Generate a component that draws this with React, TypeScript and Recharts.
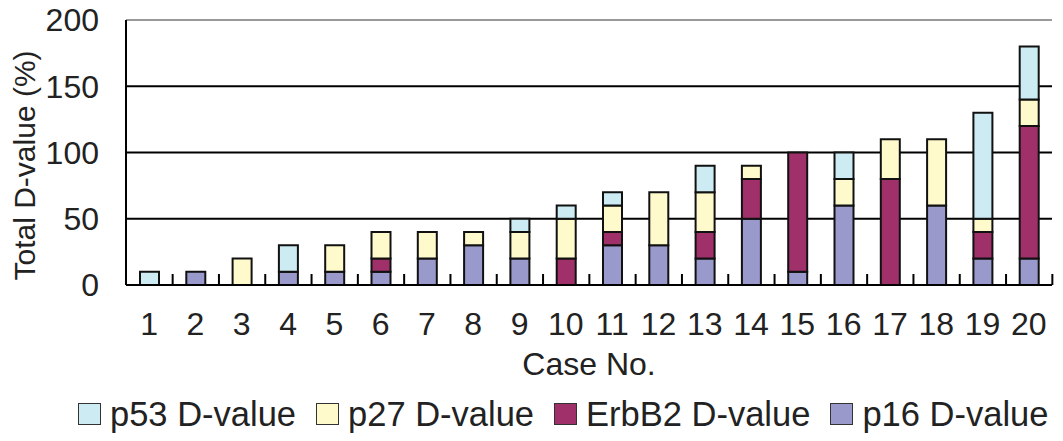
import React from "react";
import { Bar, BarChart, CartesianGrid, Legend, Rectangle, ReferenceLine, XAxis, YAxis } from "recharts";

const cases = ["1", "2", "3", "4", "5", "6", "7", "8", "9", "10", "11", "12", "13", "14", "15", "16", "17", "18", "19", "20"];
const p16 = [0, 10, 0, 10, 10, 10, 20, 30, 20, 0, 30, 30, 20, 50, 10, 60, 0, 60, 20, 20];
const erbb2 = [0, 0, 0, 0, 0, 10, 0, 0, 0, 20, 10, 0, 20, 30, 90, 0, 80, 0, 20, 100];
const p27 = [0, 0, 20, 0, 20, 20, 20, 10, 20, 30, 20, 40, 30, 10, 0, 20, 30, 50, 10, 20];
const p53 = [10, 0, 0, 20, 0, 0, 0, 0, 10, 10, 10, 0, 20, 0, 0, 20, 0, 0, 80, 40];
const yTicks = [0, 50, 100, 150, 200];

const series = [
  { key: "p16", name: "p16 D-value", color: "#9999cc" },
  { key: "erbb2", name: "ErbB2 D-value", color: "#a0306a" },
  { key: "p27", name: "p27 D-value", color: "#fffacc" },
  { key: "p53", name: "p53 D-value", color: "#cdebf3" },
];

const data = cases.map((c, i) => ({ c, p16: p16[i], erbb2: erbb2[i], p27: p27[i], p53: p53[i] }));

const FONT = "'Liberation Sans', Arial, sans-serif";
const W = 1063;
const H = 441;
const M = { top: 20, right: 11, left: 46, bottom: 0 };
const Y_AXIS_W = 80;
const STEP = (W - M.left - Y_AXIS_W - M.right) / cases.length;

// bottom segment of each stack, plus the short inner tick mark at the right edge of its category
function BaseBar(props: any) {
  const { x, y, width, height } = props;
  const baseY = y + height;
  const bx = x + width / 2 + STEP / 2;
  return (
    <g>
      {height > 0 ? <Rectangle {...props} /> : null}
      <rect x={bx - 1} y={baseY - 11} width={2} height={11} fill="#000" />
    </g>
  );
}

function LegendBox() {
  const order = [...series].reverse();
  return (
    <div style={{ display: "flex", whiteSpace: "nowrap", width: W, paddingLeft: 78, paddingTop: 11, boxSizing: "border-box", fontFamily: FONT, fontSize: 34.5, color: "#222", lineHeight: "36px" }}>
      {order.map((s) => (
        <div key={s.key} style={{ display: "flex", alignItems: "center", marginRight: 20, flexShrink: 0 }}>
          <span style={{ display: "inline-block", width: 23, height: 22, boxSizing: "border-box", background: s.color, border: "1.5px solid #333", marginRight: 9 }} />
          <span>{s.name}</span>
        </div>
      ))}
    </div>
  );
}

export default function App() {
  return (
    <div style={{ position: "absolute", left: 0, top: 0, background: "#fff" }}>
      <BarChart width={W} height={H} data={data} margin={M} barSize={19}>
        <CartesianGrid vertical={false} horizontalValues={[50, 100, 150]} stroke="#000" strokeWidth={2} />
        <ReferenceLine y={200} stroke="#999" strokeWidth={2} />
        <XAxis
          dataKey="c"
          interval={0}
          tickLine={false}
          tickSize={0}
          tickMargin={27}
          tick={{ fontSize: 32, fill: "#222", fontFamily: FONT }}
          axisLine={{ stroke: "#000", strokeWidth: 2 }}
          height={100}
          label={{ value: "Case No.", position: "insideBottom", offset: 10, fontSize: 32, fill: "#222", fontFamily: FONT }}
        />
        <YAxis
          domain={[0, 200]}
          ticks={yTicks}
          width={Y_AXIS_W}
          tickLine={false}
          tickSize={0}
          tickMargin={27}
          axisLine={{ stroke: "#000", strokeWidth: 2 }}
          tick={{ fontSize: 32, fill: "#222", fontFamily: FONT }}
          label={{ value: "Total D-value (%)", angle: -90, position: "insideLeft", offset: -22, dy: 128, fontSize: 30, fill: "#222", fontFamily: FONT }}
        />
        <YAxis yAxisId="r" orientation="right" width={0} tick={false} tickLine={false} axisLine={{ stroke: "#999", strokeWidth: 2 }} />
        <Legend verticalAlign="bottom" height={56} wrapperStyle={{ left: 0, width: W }} content={<LegendBox />} />
        {series.map((s, i) => (
          <Bar
            key={s.key}
            dataKey={s.key}
            name={s.name}
            stackId="a"
            fill={s.color}
            stroke="#111"
            strokeWidth={2}
            isAnimationActive={false}
            shape={i === 0 ? BaseBar : undefined}
          />
        ))}
      </BarChart>
    </div>
  );
}
